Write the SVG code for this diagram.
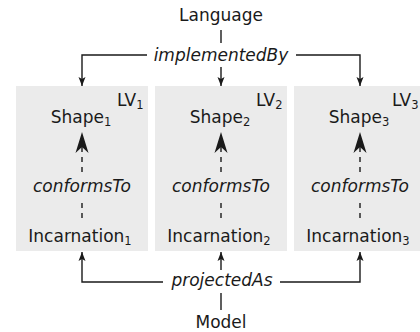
<svg xmlns="http://www.w3.org/2000/svg" width="420" height="332" viewBox="0 0 420 332">
<style>
text{font-family:"DejaVu Sans","Liberation Sans",sans-serif;font-size:17px;fill:#1a1a1a}
.it{font-style:italic}
.mid{text-anchor:middle}
.sub{font-size:11.5px}
.box{fill:#ebebeb;stroke:none}
.con{fill:none;stroke:#1a1a1a;stroke-width:1.4}
.dash{fill:none;stroke:#1a1a1a;stroke-width:1.4;stroke-dasharray:5,5}
</style>
<defs>
<marker id="sm" markerUnits="userSpaceOnUse" markerWidth="12" markerHeight="10" viewBox="-10 -5 12 10" refX="0" refY="0" orient="auto" overflow="visible">
<path d="M0,0 L-9,-3.5 L-7,0 L-9,3.5 Z" fill="#1a1a1a" stroke="none"/>
</marker>
<marker id="big" markerUnits="userSpaceOnUse" markerWidth="24" markerHeight="14" viewBox="-22 -7 24 14" refX="0" refY="0" orient="auto" overflow="visible">
<path d="M0,0 L-21,-6.5 L-15,0 L-21,6.5 Z" fill="#1a1a1a" stroke="none"/>
</marker>
</defs>
<g id="language"><text class="mid" x="221" y="21">Language</text></g>
<g id="model"><text class="mid" x="221" y="328">Model</text></g>
<g id="lv1">
<rect class="box" x="16" y="86" width="132" height="165"/>
<text x="117" y="106">LV<tspan class="sub" dy="3">1</tspan></text>
<text class="mid" x="81" y="123">Shape<tspan class="sub" dy="3">1</tspan></text>
<text class="mid it" x="82" y="192">conformsTo</text>
<text class="mid" x="80" y="242">Incarnation<tspan class="sub" dy="3">1</tspan></text>
</g>
<g id="lv2">
<rect class="box" x="155" y="86" width="132" height="165"/>
<text x="256" y="106">LV<tspan class="sub" dy="3">2</tspan></text>
<text class="mid" x="220" y="123">Shape<tspan class="sub" dy="3">2</tspan></text>
<text class="mid it" x="221" y="192">conformsTo</text>
<text class="mid" x="219" y="242">Incarnation<tspan class="sub" dy="3">2</tspan></text>
</g>
<g id="lv3">
<rect class="box" x="294" y="86" width="132" height="165"/>
<text x="392" y="106">LV<tspan class="sub" dy="3">3</tspan></text>
<text class="mid" x="359" y="123">Shape<tspan class="sub" dy="3">3</tspan></text>
<text class="mid it" x="360" y="192">conformsTo</text>
<text class="mid" x="358" y="242">Incarnation<tspan class="sub" dy="3">3</tspan></text>
</g>
<g id="labels">
<text class="mid it" x="221" y="61">implementedBy</text>
<text class="mid it" x="222" y="286">projectedAs</text>
</g>
<g id="connectors">
<path class="con" d="M221,30 V43"/>
<path class="con" d="M147,55 H82 V86" marker-end="url(#sm)"/>
<path class="con" d="M296,55 H360 V86" marker-end="url(#sm)"/>
<path class="con" d="M221,67 V86" marker-end="url(#sm)"/>
<path class="con" d="M163,282 H82 V252" marker-end="url(#sm)"/>
<path class="con" d="M280,282 H360 V252" marker-end="url(#sm)"/>
<path class="con" d="M221,270 V252" marker-end="url(#sm)"/>
<path class="con" d="M221,293 V310"/>
<path class="dash" d="M82,172 V132" marker-end="url(#big)"/>
<path class="dash" d="M82,218 V203"/>
<path class="dash" d="M221,172 V132" marker-end="url(#big)"/>
<path class="dash" d="M221,218 V203"/>
<path class="dash" d="M360,172 V132" marker-end="url(#big)"/>
<path class="dash" d="M360,218 V203"/>
</g>
</svg>
